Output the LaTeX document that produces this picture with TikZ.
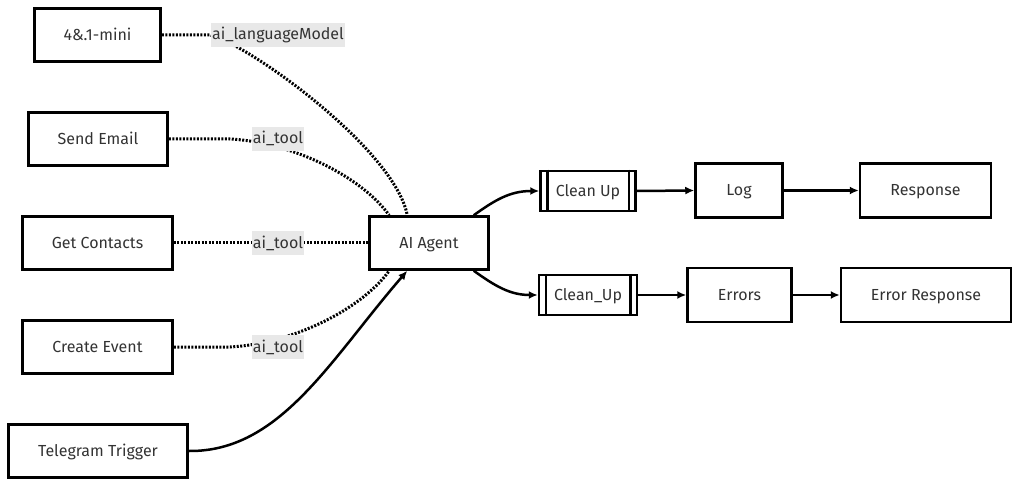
\documentclass[tikz,border=0pt]{standalone}
\usepackage{fontspec}
\setmainfont{Fira Sans}
\usetikzlibrary{arrows.meta,calc}
\definecolor{txt}{HTML}{333333}
\definecolor{lblbg}{HTML}{E8E8E8}
\begin{document}
\begin{tikzpicture}[x=1pt,y=-1pt,
  box/.style={draw, line width=2.5pt, text=txt, font=\fontsize{16}{19}\selectfont, minimum height=53pt, inner sep=0pt, text height=12pt, text depth=1pt},
  sub/.style={box, minimum height=40pt},
  lbl/.style={fill=lblbg, text=txt, font=\fontsize{16}{19}\selectfont, inner xsep=1pt, inner ysep=0pt, minimum height=24pt, text height=12pt, text depth=2pt},
  dot/.style={line width=3pt, dash pattern=on 2pt off 1.5pt},
  arr/.style={line width=2.5pt, -{Latex[length=9pt,width=8pt]}},
  plain/.style={line width=2.5pt}]
\useasboundingbox (0,0) rectangle (1019,486);

\node[box, minimum width=126pt] (mini) at (97.5,35) {4\&.1-mini};
\node[box, minimum width=139pt] (send) at (98,139) {Send Email};
\node[box, minimum width=150pt] (contacts) at (97.5,243) {Get Contacts};
\node[box, minimum width=150pt] (event) at (97.5,347) {Create Event};
\node[box, minimum width=179pt] (tele) at (98,451) {Telegram Trigger};
\node[box, minimum width=119pt] (agent) at (429,243) {AI Agent};
\node[sub, minimum width=95pt] (cu1) at (588,191) {Clean Up};
\node[sub, minimum width=98pt] (cu2) at (588,295) {Clean\_Up};
\node[box, minimum width=87pt, minimum height=54pt] (log) at (739,190.5) {Log};
\node[box, minimum width=131pt, minimum height=54pt] (resp) at (925.5,190.5) {Response};
\node[box, minimum width=104pt, minimum height=54pt] (err) at (739.5,295) {Errors};
\node[box, minimum width=170pt, minimum height=54pt] (errresp) at (926,295) {Error Response};

% subroutine inner bars
\foreach \n in {cu1,cu2}{
  \draw[line width=2.5pt] ($(\n.north west)+(8,0)$) -- ($(\n.south west)+(8,0)$);
  \draw[line width=2.5pt] ($(\n.north east)+(-8,0)$) -- ($(\n.south east)+(-8,0)$);
}

\coordinate (lmc) at (278,35);
\coordinate (t1c) at (278,139);
\coordinate (t2c) at (278,243);
\coordinate (t3c) at (278,347);
\coordinate (a1) at ($(agent.north west)+(39,0)$);
\coordinate (a2) at ($(agent.north west)+(21,0)$);
\coordinate (a3) at ($(agent.south west)+(21,0)$);
\coordinate (a4) at ($(agent.south west)+(39,0)$);
\coordinate (ar1) at ($(agent.north east)+(-16,0)$);
\coordinate (ar2) at ($(agent.south east)+(-16,0)$);

\draw[dot] (mini.east) -- (210,35) .. controls (250,45) and (395,150) .. (a1);
\draw[dot] (send.east) -- (230,139) .. controls (290,142) and (360,175) .. (a2);
\draw[dot] (contacts.east) -- (agent.west);
\draw[dot] (event.east) -- (230,347) .. controls (290,344) and (360,311) .. (a3);
\draw[arr] (tele.east) .. controls (280,452) and (330,360) .. (a4);

\draw[arr] (ar1) .. controls (495,200) and (510,191) .. (cu1.west);
\draw[arr] (ar2) .. controls (495,286) and (510,295) .. (cu2.west);
\draw[arr] (cu1.east) -- (log.west);
\draw[arr] (log.east) -- (resp.west);
\draw[arr] (cu2.east) -- (err.west);
\draw[arr] (err.east) -- (errresp.west);

\node[lbl] (lm) at (lmc) {ai\_languageModel};
\node[lbl] (t1) at (t1c) {ai\_tool};
\node[lbl] (t2) at (t2c) {ai\_tool};
\node[lbl] (t3) at (t3c) {ai\_tool};
\end{tikzpicture}
\end{document}
